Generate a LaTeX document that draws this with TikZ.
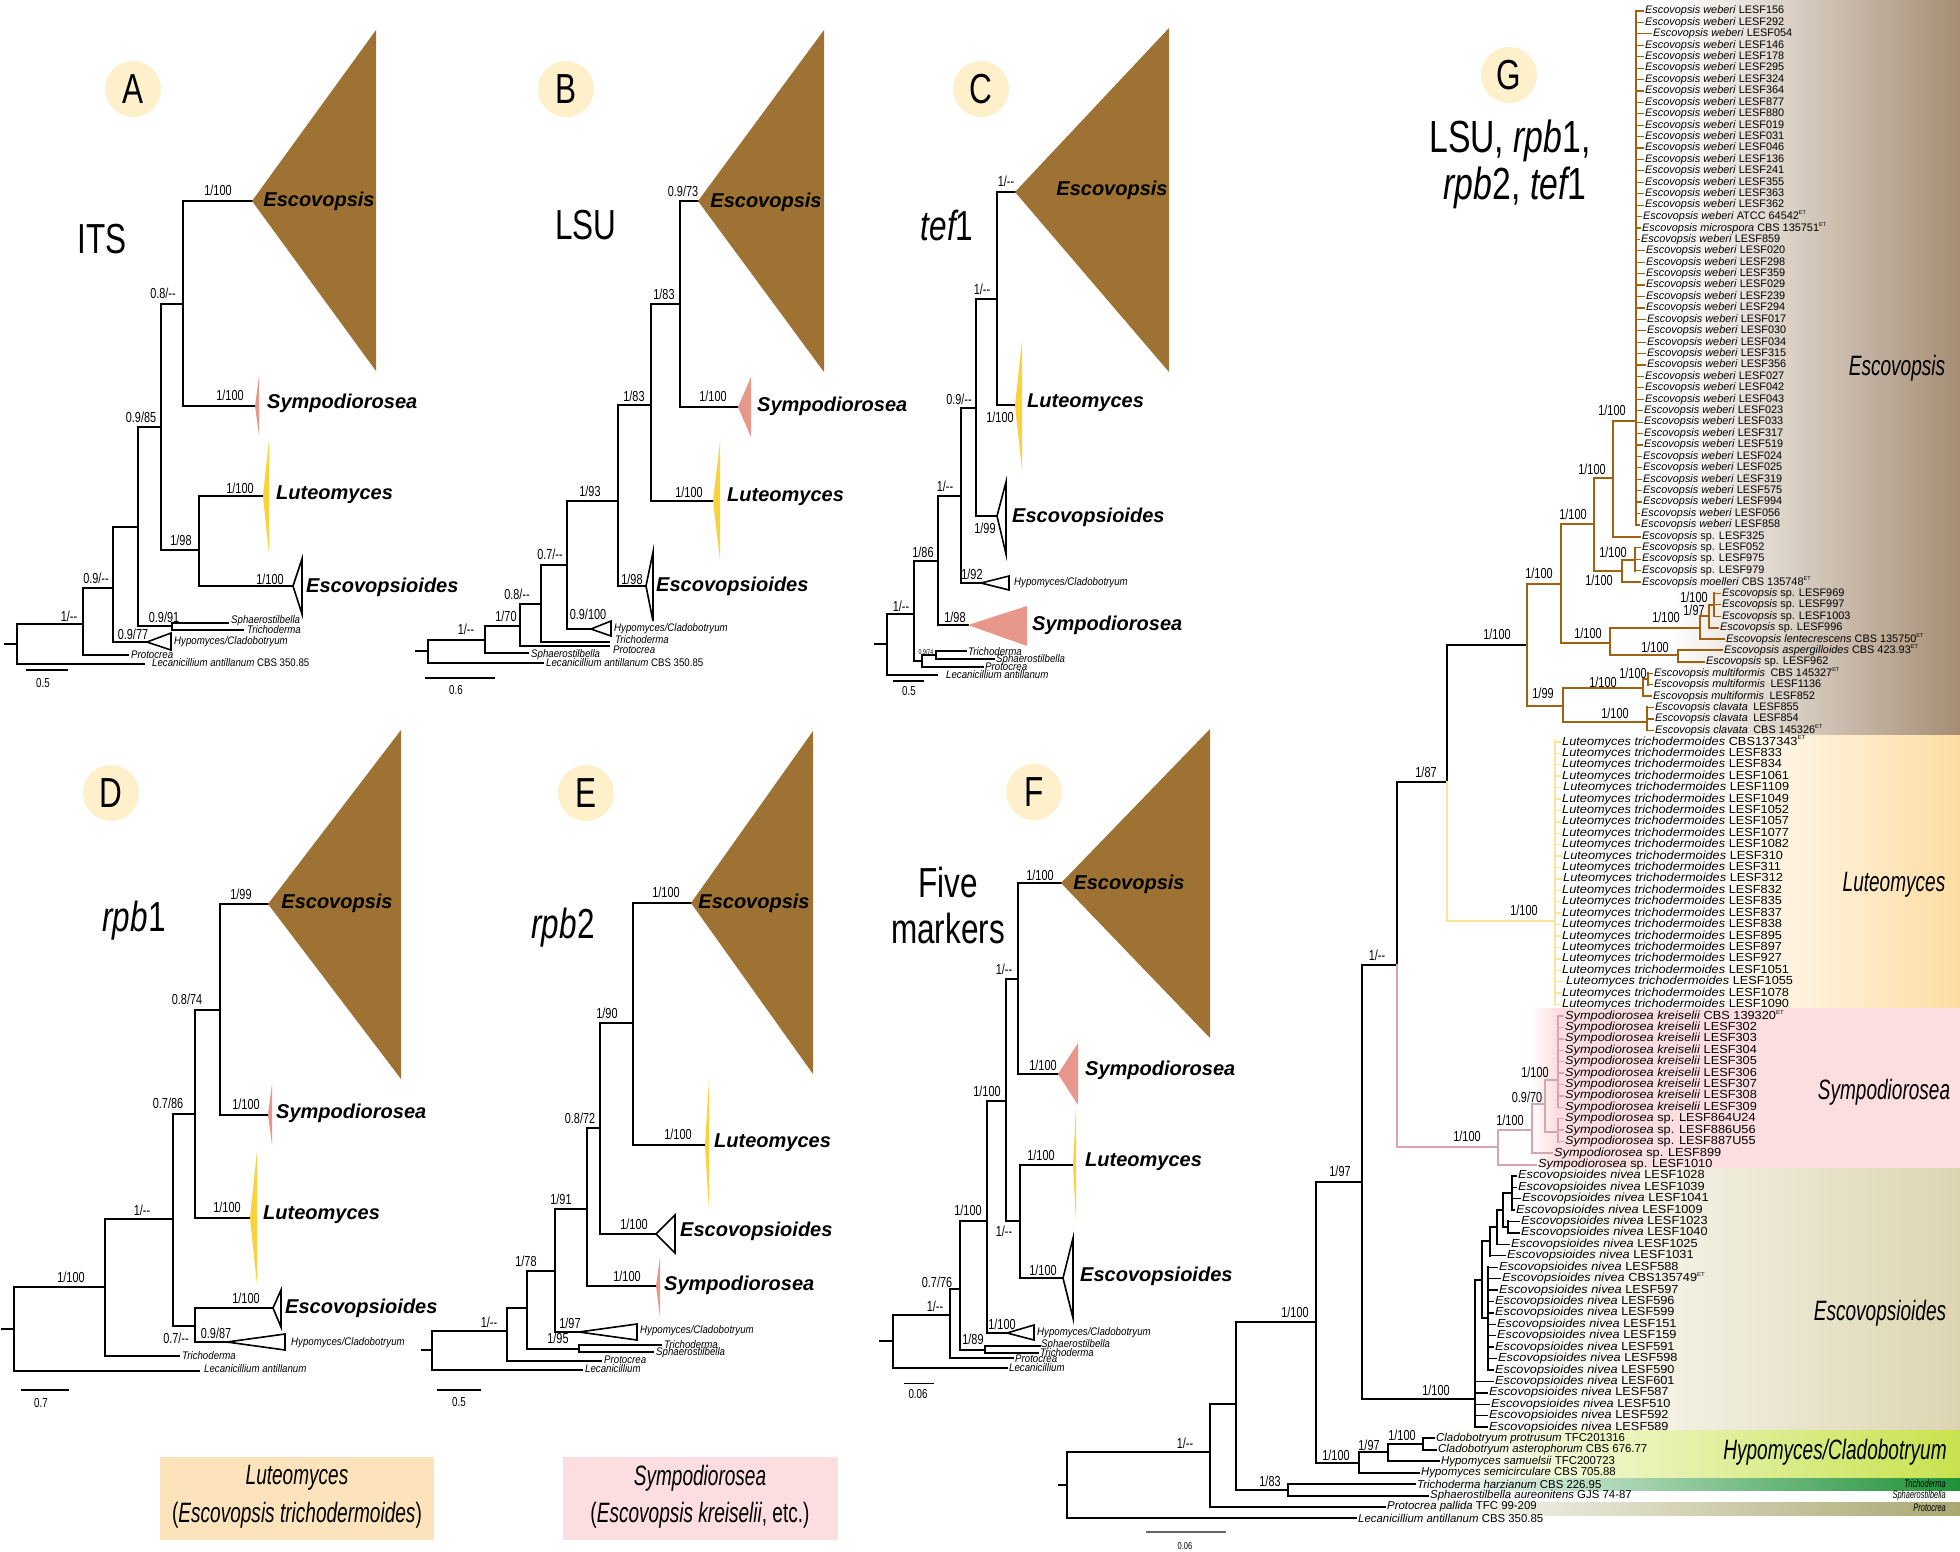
\documentclass[tikz,border=0pt]{standalone}
\usepackage{fontspec}
\setmainfont{Liberation Sans}
\newfontfamily\nrwf[FakeStretch=0.75]{Liberation Sans}
\newfontfamily\gclf[FakeStretch=0.68]{Liberation Sans}
\newfontfamily\tipf[FakeStretch=0.88]{Liberation Sans}
\newfontfamily\widef[FakeStretch=1.09]{Liberation Sans}
\definecolor{escb}{RGB}{157,114,50}
\definecolor{sympc}{RGB}{232,152,138}
\definecolor{lutc}{RGB}{250,211,60}
\definecolor{cream}{RGB}{253,240,203}
\definecolor{gbrown}{RGB}{160,98,16}
\definecolor{gyel}{RGB}{250,228,150}
\definecolor{gpink}{RGB}{214,166,175}
\definecolor{boxl}{RGB}{252,227,188}
\definecolor{boxs}{RGB}{252,221,224}
\definecolor{escband}{RGB}{166,141,116}
\definecolor{lutband}{RGB}{253,221,163}
\definecolor{sympband}{RGB}{252,222,225}
\definecolor{escsband}{RGB}{221,213,177}
\definecolor{hypband}{RGB}{200,226,78}
\definecolor{trichband}{RGB}{30,145,55}
\definecolor{protband}{RGB}{170,168,112}
\newcommand\etsup{\raisebox{0.45em}{\fontsize{5.5}{6}\selectfont ET}}
\newcommand\gtip[6]{\pgfmathsetmacro\gyy{11+(#1-1)*11.42}\draw[#4] (#2,\gyy) -- (#3-1.5,\gyy); \node[#5] (gt#1) at (#3,\gyy) {#6};}
\newcommand\glab[4]{\pgfmathsetmacro\gyy{11+(#1-1)*11.42}\node[#3] (gt#1) at (#2,\gyy) {#4};}
\tikzset{
 brn/.style={line width=2pt},
 tbrn/.style={line width=1.4pt},
 sbar/.style={line width=1.3pt},
 otri/.style={draw=black, fill=white, line width=1.6pt},
 blab/.style={font=\nrwf\fontsize{14.5}{15}\selectfont, inner sep=0pt},
 slab/.style={font=\nrwf\fontsize{13}{14}\selectfont, inner sep=0pt},
 tipl/.style={font=\tipf\itshape\fontsize{11}{12}\selectfont, anchor=west, inner sep=0pt},
 clab/.style={font=\bfseries\itshape\fontsize{20}{22}\selectfont, anchor=west, inner sep=0pt},
 ttl/.style={font=\nrwf\fontsize{42}{44}\selectfont, inner sep=0pt},
 circl/.style={circle, fill=cream, minimum size=56pt, inner sep=0pt, font=\nrwf\fontsize{42}{44}\selectfont},
 gta/.style={font=\fontsize{10.9}{11}\selectfont, inner sep=0pt, anchor=west},
 gtc/.style={font=\widef\fontsize{11.7}{12}\selectfont, inner sep=0pt, anchor=west},
 gtd/.style={font=\fontsize{11.4}{12}\selectfont, inner sep=0pt, anchor=west},
 gcl/.style={font=\gclf\itshape\fontsize{28}{30}\selectfont, inner sep=0pt},
 gsm/.style={font=\gclf\itshape\fontsize{11}{12}\selectfont, inner sep=0pt, anchor=east},
 gbk/.style={line width=2.2pt},
 gbr/.style={draw=gbrown, line width=2.2pt},
 gye/.style={draw=gyel, line width=2pt},
 gpk/.style={draw=gpink, line width=2pt},
 gek/.style={line width=1.8pt},
 tkb/.style={draw=gbrown, line width=1.2pt},
 tky/.style={draw=gyel, line width=1.4pt},
 tkp/.style={draw=gpink, line width=1.4pt},
 tkk/.style={draw=black, line width=1.4pt},
}
\begin{document}
\begin{tikzpicture}[x=1pt,y=-1pt,line cap=rect,line join=miter]
\useasboundingbox (0,0) rectangle (1960,1551);
\fill[white] (0,0) rectangle (1960,1551);

% ================= G background bands
\shade[left color=white,right color=escband] (1670,0) rectangle (1960,735);
\shade[left color=white,right color=lutband] (1700,735) rectangle (1960,1008);
\shade[left color=white,right color=sympband] (1530,1008) rectangle (1556,1168);
\fill[sympband] (1555,1008) rectangle (1960,1168);
\shade[left color=white,right color=escsband] (1520,1168) rectangle (1960,1430);
\shade[left color=white,right color=hypband] (1430,1430) rectangle (1960,1477);
\shade[left color=white,right color=trichband] (1420,1478) rectangle (1960,1490);
\shade[left color=white,right color=protband] (1400,1502) rectangle (1960,1515);

% ================= Panel A
\node[circl] (cA) at (133,89) {A};
\node[ttl] (tA) at (102,239) {ITS};
\draw[brn] (5,644)--(17,644);
\draw[brn] (83,624)--(17,624)--(17,664)--(144,664);
\draw[brn] (113,588)--(83,588)--(83,655)--(128,655);
\draw[brn] (138,527)--(113,527)--(113,642)--(147,642);
\draw[brn] (161,427)--(138,427)--(138,626)--(172,626);
\draw[tbrn] (228,623)--(172,623)--(172,630)--(243,630);
\draw[brn] (183,304)--(161,304)--(161,550)--(199,550);
\draw[brn] (252,201)--(183,201)--(183,406)--(255,406);
\draw[brn] (263,496)--(199,496)--(199,586)--(293,586);
\fill[escb] (252,201) -- (376,30) -- (376,371) -- cycle;
\fill[sympc] (255,406) -- (259,376) -- (259,435) -- cycle;
\fill[lutc] (263,496) -- (269,440) -- (269,554) -- cycle;
\draw[otri] (293,586) -- (302,559) -- (302,614) -- cycle;
\draw[otri] (147,642) -- (171,633) -- (171,650) -- cycle;
\node[clab,anchor=center] (aEsc) at (319,201) {Escovopsis};
\node[clab] (aSym) at (267,403) {Sympodiorosea};
\node[clab] (aLut) at (276,495) {Luteomyces};
\node[clab] (aEss) at (306,587) {Escovopsioides};
\node[tipl] (aSph) at (231,621) {Sphaerostilbella};
\node[tipl] (aTri) at (247,630) {Trichoderma};
\node[tipl] (aHyp) at (174,642) {Hypomyces/Cladobotryum};
\node[tipl] (aPro) at (131,655) {Protocrea};
\node[tipl] (aLec) at (152,663) {Lecanicillium antillanum {\upshape CBS 350.85}};
\node[blab] (a1) at (218,190) {1/100};
\node[blab] (a2) at (163,293) {0.8/-{}-};
\node[blab] (a3) at (230,395) {1/100};
\node[blab] (a4) at (141,417) {0.9/85};
\node[blab] (a5) at (181,540) {1/98};
\node[blab] (a6) at (240,488) {1/100};
\node[blab] (a7) at (270,579) {1/100};
\node[blab] (a8) at (164,617) {0.9/91};
\node[blab] (a9) at (133,634) {0.9/77};
\node[blab] (a10) at (96,578) {0.9/-{}-};
\node[blab] (a11) at (69,616) {1/-{}-};
\draw[sbar] (27,670)--(67,670);
\node[slab] (aS) at (43,683) {0.5};

% ================= Panel B
\node[circl] (cB) at (566,89) {B};
\node[ttl] (tB) at (586,225) {LSU};
\draw[brn] (416,651)--(428,651);
\draw[brn] (485,640)--(428,640)--(428,663)--(543,663);
\draw[brn] (520,626)--(485,626)--(485,653)--(528,653);
\draw[brn] (541,604)--(520,604)--(520,646)--(609,646);
\draw[brn] (567,565)--(541,565)--(541,642)--(609,642);
\draw[brn] (618,501)--(567,501)--(567,629)--(591,629);
\draw[brn] (651,405)--(618,405)--(618,586)--(646,586);
\draw[brn] (680,304)--(651,304)--(651,501)--(713,501);
\draw[brn] (698,201)--(680,201)--(680,407)--(738,407);
\fill[escb] (698,201) -- (824,30) -- (824,372) -- cycle;
\fill[sympc] (738,407) -- (751,377) -- (751,437) -- cycle;
\fill[lutc] (713,501) -- (720,442) -- (720,560) -- cycle;
\draw[otri] (646,586) -- (653,552) -- (653,621) -- cycle;
\draw[otri] (591,629) -- (611,621) -- (611,636) -- cycle;
\node[clab,anchor=center] (bEsc) at (766,202) {Escovopsis};
\node[clab] (bSym) at (757,406) {Sympodiorosea};
\node[clab] (bLut) at (727,497) {Luteomyces};
\node[clab] (bEss) at (656,586) {Escovopsioides};
\node[tipl] (bHyp) at (614,629) {Hypomyces/Cladobotryum};
\node[tipl] (bTri) at (615,640) {Trichoderma};
\node[tipl] (bPro) at (613,650) {Protocrea};
\node[tipl] (bSph) at (531,655) {Sphaerostilbella};
\node[tipl] (bLec) at (546,663) {Lecanicillium antillanum {\upshape CBS 350.85}};
\node[blab] (b1) at (683,191) {0.9/73};
\node[blab] (b2) at (664,294) {1/83};
\node[blab] (b3) at (713,396) {1/100};
\node[blab] (b4) at (634,396) {1/83};
\node[blab] (b5) at (689,492) {1/100};
\node[blab] (b6) at (590,491) {1/93};
\node[blab] (b7) at (632,579) {1/98};
\node[blab] (b8) at (588,614) {0.9/100};
\node[blab] (b9) at (550,554) {0.7/-{}-};
\node[blab] (b10) at (517,594) {0.8/-{}-};
\node[blab] (b11) at (506,616) {1/70};
\node[blab] (b12) at (466,629) {1/-{}-};
\draw[sbar] (426,678)--(494,678);
\node[slab] (bS) at (456,690) {0.6};

% ================= Panel C
\node[circl] (cC) at (981,89) {C};
\node[ttl] (tC) at (947,225) {{\itshape tef}1};
\draw[brn] (875,644)--(887,644);
\draw[brn] (914,614)--(887,614)--(887,675)--(937,675);
\draw[brn] (938,561)--(914,561)--(914,661)--(922,661);
\draw[tbrn] (936,655)--(922,655)--(922,667)--(983,667);
\draw[tbrn] (966,651)--(936,651)--(936,659)--(994,659);
\draw[brn] (961,496)--(938,496)--(938,625)--(968,625);
\draw[brn] (976,408)--(961,408)--(961,583)--(981,583);
\draw[brn] (997,299)--(976,299)--(976,516)--(997,516);
\draw[brn] (1015,192)--(997,192)--(997,405)--(1015,405);
\fill[escb] (1015,192) -- (1169,28) -- (1169,372) -- cycle;
\fill[lutc] (1015,405) -- (1022,341) -- (1022,470) -- cycle;
\draw[otri] (997,516) -- (1006,482) -- (1006,554) -- cycle;
\draw[otri] (981,583) -- (1009,576) -- (1009,590) -- cycle;
\fill[sympc] (968,625) -- (1027,606) -- (1027,646) -- cycle;
\node[clab,anchor=center] (cEsc) at (1112,190) {Escovopsis};
\node[clab] (cLut) at (1027,403) {Luteomyces};
\node[clab] (cEss) at (1012,517) {Escovopsioides};
\node[tipl] (cHyp) at (1014,583) {Hypomyces/Cladobotryum};
\node[clab] (cSym) at (1032,625) {Sympodiorosea};
\node[tipl] (cTri) at (968,652) {Trichoderma};
\node[tipl] (cSph) at (996,660) {Sphaerostilbella};
\node[tipl] (cPro) at (985,667) {Protocrea};
\node[tipl] (cLec) at (946,675) {Lecanicillium antillanum};
\node[blab] (c1) at (1006,181) {1/-{}-};
\node[blab] (c2) at (982,289) {1/-{}-};
\node[blab] (c3) at (1000,417) {1/100};
\node[blab] (c4) at (985,528) {1/99};
\node[blab] (c5) at (959,399) {0.9/-{}-};
\node[blab] (c6) at (972,574) {1/92};
\node[blab] (c7) at (945,486) {1/-{}-};
\node[blab] (c8) at (955,617) {1/98};
\node[blab] (c9) at (923,552) {1/86};
\node[blab] (c10) at (901,606) {1/-{}-};
\node[font=\nrwf\fontsize{7}{8}\selectfont, inner sep=0pt] (c11) at (926,652) {0.9/74};
\draw[sbar] (894,681)--(923,681);
\node[slab] (cS) at (909,691) {0.5};

% ================= Panel D
\node[circl] (cD) at (111,793) {D};
\node[ttl] (tD) at (134,921) {{\itshape rpb}1};
\draw[brn] (2,1329)--(14,1329);
\draw[brn] (105,1287)--(14,1287)--(14,1371)--(199,1371);
\draw[brn] (173,1219)--(105,1219)--(105,1356)--(179,1356);
\draw[brn] (195,1114)--(173,1114)--(173,1326)--(195,1326);
\draw[brn] (273,1308)--(195,1308)--(195,1342)--(227,1342);
\draw[brn] (220,1010)--(195,1010)--(195,1218)--(250,1218);
\draw[brn] (268,904)--(220,904)--(220,1115)--(268,1115);
\fill[escb] (268,904) -- (401,730) -- (401,1079) -- cycle;
\fill[sympc] (268,1115) -- (272,1084) -- (272,1145) -- cycle;
\fill[lutc] (250,1218) -- (257,1151) -- (257,1285) -- cycle;
\draw[otri] (273,1308) -- (281,1290) -- (281,1327) -- cycle;
\draw[otri] (227,1342) -- (285,1334) -- (285,1350) -- cycle;
\node[clab,anchor=center] (dEsc) at (337,903) {Escovopsis};
\node[clab] (dSym) at (276,1113) {Sympodiorosea};
\node[clab] (dLut) at (263,1215) {Luteomyces};
\node[clab] (dEss) at (285,1308) {Escovopsioides};
\node[tipl] (dHyp) at (291,1343) {Hypomyces/Cladobotryum};
\node[tipl] (dTri) at (182,1356) {Trichoderma};
\node[tipl] (dLec) at (204,1369) {Lecanicillium antillanum};
\node[blab] (d1) at (241,894) {1/99};
\node[blab] (d2) at (187,999) {0.8/74};
\node[blab] (d3) at (246,1104) {1/100};
\node[blab] (d4) at (227,1207) {1/100};
\node[blab] (d5) at (168,1103) {0.7/86};
\node[blab] (d6) at (176,1338) {0.7/-{}-};
\node[blab] (d7) at (246,1298) {1/100};
\node[blab] (d8) at (216,1333) {0.9/87};
\node[blab] (d9) at (142,1210) {1/-{}-};
\node[blab] (d10) at (71,1277) {1/100};
\draw[sbar] (22,1390)--(68,1390);
\node[slab] (dS) at (41,1403) {0.7};

% ================= Panel E
\node[circl] (cE) at (586,793) {E};
\node[ttl] (tE) at (563,928) {{\itshape rpb}2};
\draw[brn] (422,1350)--(432,1350);
\draw[brn] (507,1331)--(432,1331)--(432,1370)--(582,1370);
\draw[brn] (527,1308)--(507,1308)--(507,1361)--(601,1361);
\draw[brn] (555,1271)--(527,1271)--(527,1349)--(579,1349);
\draw[tbrn] (661,1345)--(579,1345)--(579,1352)--(653,1352);
\draw[brn] (587,1209)--(555,1209)--(555,1332)--(579,1332);
\draw[brn] (600,1128)--(587,1128)--(587,1286)--(656,1286);
\draw[brn] (633,1023)--(600,1023)--(600,1234)--(656,1234);
\draw[brn] (691,903)--(633,903)--(633,1145)--(705,1145);
\fill[escb] (691,903) -- (813,731) -- (813,1074) -- cycle;
\fill[lutc] (705,1145) -- (709,1080) -- (709,1210) -- cycle;
\draw[otri] (656,1234) -- (675,1215) -- (675,1253) -- cycle;
\fill[sympc] (656,1286) -- (660,1257) -- (660,1317) -- cycle;
\draw[otri] (579,1332) -- (637,1324) -- (637,1340) -- cycle;
\node[clab,anchor=center] (eEsc) at (754,903) {Escovopsis};
\node[clab] (eLut) at (714,1143) {Luteomyces};
\node[clab] (eEss) at (680,1231) {Escovopsioides};
\node[clab] (eSym) at (664,1285) {Sympodiorosea};
\node[tipl] (eHyp) at (640,1331) {Hypomyces/Cladobotryum};
\node[tipl] (eTri) at (664,1345) {Trichoderma};
\node[tipl] (eSph) at (656,1353) {Sphaerostilbella};
\node[tipl] (ePro) at (604,1360) {Protocrea};
\node[tipl] (eLec) at (585,1369) {Lecanicillium};
\node[blab] (e1) at (666,892) {1/100};
\node[blab] (e2) at (607,1013) {1/90};
\node[blab] (e3) at (678,1134) {1/100};
\node[blab] (e4) at (580,1118) {0.8/72};
\node[blab] (e5) at (634,1224) {1/100};
\node[blab] (e6) at (627,1276) {1/100};
\node[blab] (e7) at (561,1199) {1/91};
\node[blab] (e8) at (570,1323) {1/97};
\node[blab] (e9) at (526,1261) {1/78};
\node[blab] (e10) at (558,1338) {1/95};
\node[blab] (e11) at (489,1322) {1/-{}-};
\draw[sbar] (438,1390)--(480,1390);
\node[slab] (eS) at (459,1402) {0.5};

% ================= Panel F
\node[circl] (cF) at (1034,792) {F};
\node[ttl] (tF1) at (948,882) {Five};
\node[ttl] (tF2) at (948,928) {markers};
\draw[brn] (880,1341)--(893,1341);
\draw[brn] (950,1315)--(893,1315)--(893,1368)--(1007,1368);
\draw[brn] (960,1289)--(950,1289)--(950,1358)--(1013,1358);
\draw[brn] (987,1221)--(960,1221)--(960,1350)--(985,1350);
\draw[tbrn] (1040,1346)--(985,1346)--(985,1353)--(1038,1353);
\draw[brn] (1006,1101)--(987,1101)--(987,1333)--(1007,1333);
\draw[brn] (1018,979)--(1006,979)--(1006,1221)--(1020,1221);
\draw[brn] (1061,883)--(1018,883)--(1018,1074)--(1058,1074);
\draw[brn] (1073,1165)--(1020,1165)--(1020,1278)--(1063,1278);
\fill[escb] (1061,883) -- (1210,729) -- (1210,1038) -- cycle;
\fill[sympc] (1058,1074) -- (1078,1043) -- (1078,1105) -- cycle;
\fill[lutc] (1073,1165) -- (1076,1108) -- (1076,1220) -- cycle;
\draw[otri] (1063,1278) -- (1073,1238) -- (1073,1318) -- cycle;
\draw[otri] (1007,1333) -- (1034,1325) -- (1034,1340) -- cycle;
\node[clab,anchor=center] (fEsc) at (1129,884) {Escovopsis};
\node[clab] (fSym) at (1085,1070) {Sympodiorosea};
\node[clab] (fLut) at (1085,1162) {Luteomyces};
\node[clab] (fEss) at (1080,1276) {Escovopsioides};
\node[tipl] (fHyp) at (1037,1333) {Hypomyces/Cladobotryum};
\node[tipl] (fSph) at (1041,1345) {Sphaerostilbella};
\node[tipl] (fTri) at (1040,1353) {Trichoderma};
\node[tipl] (fPro) at (1015,1359) {Protocrea};
\node[tipl] (fLec) at (1009,1368) {Lecanicillium};
\node[blab] (f1) at (1040,875) {1/100};
\node[blab] (f2) at (1043,1065) {1/100};
\node[blab] (f3) at (1004,969) {1/-{}-};
\node[blab] (f4) at (1004,1231) {1/-{}-};
\node[blab] (f5) at (1041,1155) {1/100};
\node[blab] (f6) at (1043,1270) {1/100};
\node[blab] (f7) at (987,1091) {1/100};
\node[blab] (f8) at (1002,1324) {1/100};
\node[blab] (f9) at (968,1210) {1/100};
\node[blab] (f10) at (973,1339) {1/89};
\node[blab] (f11) at (937,1282) {0.7/76};
\node[blab] (f12) at (935,1306) {1/-{}-};
\draw[line width=1pt] (904,1383)--(933,1383);
\node[slab] (fS) at (918,1394) {0.06};

% ================= Bottom boxes
\fill[boxl] (160,1457) rectangle (434,1540);
\node[gcl] (bx1a) at (297,1478) {Luteomyces};
\node[gcl] (bx1b) at (297,1515) {{\upshape(}Escovopsis trichodermoides{\upshape)}};
\fill[boxs] (563,1457) rectangle (838,1540);
\node[gcl] (bx2a) at (700,1478) {Sympodiorosea};
\node[gcl] (bx2b) at (700,1515) {{\upshape(}Escovopsis kreiselii{\upshape, etc.)}};

% ================= Panel G
\node[circl] (cG) at (1509,75) {G};
\node[font=\nrwf\fontsize{45}{46}\selectfont, inner sep=0pt] (tG1) at (1510,141) {LSU, {\itshape rpb}1,};
\node[font=\nrwf\fontsize{45}{46}\selectfont, inner sep=0pt] (tG2) at (1515,188) {{\itshape rpb}2, {\itshape tef}1};
% backbone
\draw[gbk] (1059,1485)--(1067,1485);
\draw[gbk] (1210,1452)--(1067,1452)--(1067,1518)--(1356,1518);
\draw[gbk] (1236,1404)--(1210,1404)--(1210,1507)--(1385,1507);
\draw[gbk] (1316,1322)--(1236,1322)--(1236,1490)--(1288,1490);
\draw[tkk] (1415,1484)--(1288,1484)--(1288,1496)--(1428,1496);
\draw[gbk] (1362,1182)--(1316,1182)--(1316,1463)--(1359,1463);
\draw[gbk] (1388,1452)--(1359,1452)--(1359,1473)--(1419,1473);
\draw[gbk] (1423,1444)--(1388,1444)--(1388,1461)--(1439,1461);
\draw[tkk] (1434,1438)--(1423,1438)--(1423,1450)--(1436,1450);
\draw[gbk] (1397,965)--(1362,965)--(1362,1399)--(1475,1399);
\draw[gbk] (1447,782)--(1397,782)--(1397,965);
\draw[gpk] (1397,965)--(1397,1147)--(1498,1147);
\draw[gbk] (1527,645)--(1447,645)--(1447,782);
\draw[gye] (1447,782)--(1447,921)--(1555,921);
% Escovopsis clade
\draw[gbr] (1561,584)--(1527,584)--(1527,706)--(1563,706);
\draw[gbr] (1594,524)--(1561,524)--(1561,643)--(1610,643);
\draw[gbr] (1613,478)--(1594,478)--(1594,571)--(1622,571);
\draw[gbr] (1636,421)--(1613,421)--(1613,537)--(1640,537);
\draw[gbr] (1636,11)--(1636,525);
\draw[gbr] (1635,560)--(1622,560)--(1622,582)--(1640,582);
\draw[gbr] (1635,548)--(1635,571);
\draw[gbr] (1700,628)--(1610,628)--(1610,655)--(1678,655);
\draw[gbr] (1709,616)--(1700,616)--(1700,639)--(1724,639);
\draw[gbr] (1714,605)--(1709,605)--(1709,628)--(1718,628);
\draw[gbr] (1714,593)--(1714,616);
\draw[gbr] (1722,650)--(1678,650)--(1678,662)--(1704,662);
\draw[gbr] (1643,688)--(1563,688)--(1563,722)--(1647,722);
\draw[gbr] (1648,679)--(1643,679)--(1643,696)--(1651,696);
\draw[gbr] (1648,673)--(1648,685);
\draw[gbr] (1647,707)--(1647,730);
% Luteomyces
\draw[gye] (1555,741)--(1555,1004);
% Sympodiorosea
\draw[gpk] (1532,1130)--(1498,1130)--(1498,1164.5)--(1536,1164.5);
\draw[gpk] (1545,1104)--(1532,1104)--(1532,1153)--(1552,1153);
\draw[gpk] (1558,1080)--(1545,1080)--(1545,1132)--(1558,1132);
\draw[gpk] (1558,1016)--(1558,1107);
\draw[gpk] (1558,1119)--(1558,1142);
% Escovopsioides
\draw[gek] (1482,1280)--(1475,1280)--(1475,1427);
\draw[gek] (1490,1241)--(1482,1241)--(1482,1318)--(1488,1318);
\draw[gek] (1488,1267)--(1488,1370);
\draw[gek] (1497,1227)--(1490,1227)--(1490,1256);
\draw[gek] (1503,1210)--(1497,1210)--(1497,1244);
\draw[gek] (1512,1193)--(1503,1193)--(1503,1227)--(1508,1227);
\draw[gek] (1512,1176)--(1512,1210);
\draw[gek] (1508,1221)--(1508,1233);

% tips Escovopsis
\foreach \rw/\cd/\lx in {1/156/1645,2/292/1645,3/054/1653,4/146/1645,5/178/1645,6/295/1645,7/324/1645,8/364/1645,9/877/1645,10/880/1645,11/019/1645,12/031/1645,13/046/1645,14/136/1645,15/241/1645,16/355/1645,17/363/1645,18/362/1645,21/859/1641,22/020/1646,23/298/1646,24/359/1646,25/029/1646,26/239/1646,27/294/1646,28/017/1647,29/030/1647,30/034/1647,31/315/1647,32/356/1647,33/027/1645,34/042/1645,35/043/1645,36/023/1644,37/033/1644,38/317/1644,39/519/1644,40/024/1643,41/025/1643,42/319/1643,43/575/1643,44/994/1643,45/056/1641,46/858/1641}
 {\gtip{\rw}{1636}{\lx}{tkb}{gta}{\textit{Escovopsis weberi} LESF\cd}}
\gtip{19}{1636}{1643}{tkb}{gta}{\textit{Escovopsis weberi} ATCC 64542\etsup}
\gtip{20}{1636}{1642}{tkb}{gta}{\textit{Escovopsis microspora} CBS 135751\etsup}
\glab{47}{1642}{gta}{\textit{Escovopsis} sp. LESF325}
\foreach \rw/\cd in {48/052,49/975,50/979}{\gtip{\rw}{1635}{1642}{tkb}{gta}{\textit{Escovopsis} sp. LESF\cd}}
\glab{51}{1642}{gta}{\textit{Escovopsis moelleri} CBS 135748\etsup}
\foreach \rw/\cd in {52/969,53/997,54/1003}{\gtip{\rw}{1714}{1722}{tkb}{gta}{\textit{Escovopsis} sp. LESF\cd}}
\glab{55}{1720}{gta}{\textit{Escovopsis} sp. LESF996}
\glab{56}{1726}{gta}{\textit{Escovopsis lentecrescens} CBS 135750\etsup}
\glab{57}{1724}{gta}{\textit{Escovopsis aspergilloides} CBS 423.93\etsup}
\glab{58}{1706}{gta}{\textit{Escovopsis} sp. LESF962}
\gtip{59}{1648}{1654}{tkb}{gta}{\textit{Escovopsis multiformis}\enspace CBS 145327\etsup}
\gtip{60}{1648}{1654}{tkb}{gta}{\textit{Escovopsis multiformis}\enspace LESF1136}
\glab{61}{1653}{gta}{\textit{Escovopsis multiformis}\enspace LESF852}
\foreach \rw/\cd in {62/LESF855,63/LESF854}{\gtip{\rw}{1647}{1655}{tkb}{gta}{\textit{Escovopsis clavata}\enspace \cd}}
\gtip{64}{1647}{1655}{tkb}{gta}{\textit{Escovopsis clavata}\enspace CBS 145326\etsup}
% tips Luteomyces
\gtip{65}{1555}{1562}{tky}{gtc}{\textit{Luteomyces trichodermoides} CBS137343\etsup}
\foreach \rw/\cd/\lx in {66/833/1562,67/834/1562,68/1061/1562,69/1109/1563,70/1049/1562,71/1052/1562,72/1057/1562,73/1077/1562,74/1082/1562,75/310/1563,76/311/1562,77/312/1563,78/832/1562,79/835/1562,80/837/1562,81/838/1562,82/895/1562,83/897/1562,84/927/1562,85/1051/1562,86/1055/1566,87/1078/1562,88/1090/1562}
 {\gtip{\rw}{1555}{\lx}{tky}{gtc}{\textit{Luteomyces trichodermoides} LESF\cd}}
% tips Sympodiorosea
\gtip{89}{1558}{1565}{tkp}{gtc}{\textit{Sympodiorosea kreiselii} CBS 139320\etsup}
\foreach \rw/\cd in {90/302,91/303,92/304,93/305,94/306,95/307,96/308,97/309}{\gtip{\rw}{1558}{1565}{tkp}{gtc}{\textit{Sympodiorosea kreiselii} LESF\cd}}
\foreach \rw/\cd in {98/864U24,99/886U56,100/887U55}{\gtip{\rw}{1558}{1565}{tkp}{gtc}{\textit{Sympodiorosea} sp. LESF\cd}}
\glab{101}{1554}{gtc}{\textit{Sympodiorosea} sp. LESF899}
\glab{102}{1538}{gtc}{\textit{Sympodiorosea} sp. LESF1010}
% tips Escovopsioides
\foreach \rw/\cd/\vx/\lx in {103/1028/1512/1518,104/1039/1512/1518,105/1041/1512/1522,106/1009/1512/1516,107/1023/1508/1521,108/1040/1508/1521,109/1025/1497/1511,110/1031/1490/1507,111/588/1488/1499,113/597/1488/1499,114/596/1488/1495,115/599/1488/1495,116/151/1488/1497,117/159/1488/1497,118/591/1488/1495,119/598/1488/1498,120/590/1488/1495,121/601/1475/1495,122/587/1475/1489,123/510/1475/1491,124/592/1475/1489,125/589/1475/1489}
 {\gtip{\rw}{\vx}{\lx}{tkk}{gtc}{\textit{Escovopsioides nivea} LESF\cd}}
\gtip{112}{1488}{1502}{tkk}{gtc}{\textit{Escovopsioides nivea} CBS135749\etsup}
% outgroups
\glab{126}{1436}{gtd}{\textit{Cladobotryum protrusum} TFC201316}
\glab{127}{1438}{gtd}{\textit{Cladobotryum asterophorum} CBS 676.77}
\glab{128}{1441}{gtd}{\textit{Hypomyces samuelsii} TFC200723}
\glab{129}{1421}{gtd}{\textit{Hypomyces semicirculare} CBS 705.88}
\glab{130}{1417}{gtd}{\textit{Trichoderma harzianum} CBS 226.95}
\glab{131}{1430}{gtd}{\textit{Sphaerostilbella aureonitens} GJS 74-87}
\glab{132}{1387}{gtd}{\textit{Protocrea pallida} TFC 99-209}
\glab{133}{1358}{gtd}{\textit{Lecanicillium antillanum} CBS 350.85}
% G branch labels
\node[blab] (g1) at (1497,634) {1/100};
\node[blab] (g2) at (1539,573) {1/100};
\node[blab] (g3) at (1573,514) {1/100};
\node[blab] (g4) at (1592,469) {1/100};
\node[blab] (g5) at (1612,410) {1/100};
\node[blab] (g6) at (1613,552) {1/100};
\node[blab] (g7) at (1599,580) {1/100};
\node[blab] (g8) at (1588,633) {1/100};
\node[blab] (g9) at (1666,617) {1/100};
\node[blab] (g10) at (1694,597) {1/100};
\node[blab] (g11) at (1694,610) {1/97};
\node[blab] (g12) at (1655,647) {1/100};
\node[blab] (g13) at (1543,693) {1/99};
\node[blab] (g14) at (1603,682) {1/100};
\node[blab] (g15) at (1633,673) {1/100};
\node[blab] (g16) at (1615,713) {1/100};
\node[blab] (g17) at (1426,772) {1/87};
\node[blab] (g18) at (1524,910) {1/100};
\node[blab] (g19) at (1377,955) {1/-{}-};
\node[blab] (g20) at (1467,1136) {1/100};
\node[blab] (g21) at (1510,1120) {1/100};
\node[blab] (g22) at (1527,1097) {0.9/70};
\node[blab] (g23) at (1535,1072) {1/100};
\node[blab] (g24) at (1340,1171) {1/97};
\node[blab] (g25) at (1436,1390) {1/100};
\node[blab] (g26) at (1295,1312) {1/100};
\node[blab] (g27) at (1270,1481) {1/83};
\node[blab] (g28) at (1336,1455) {1/100};
\node[blab] (g29) at (1369,1445) {1/97};
\node[blab] (g30) at (1402,1435) {1/100};
\node[blab] (g31) at (1185,1443) {1/-{}-};
\draw[line width=1.3pt, black!60] (1147,1532)--(1225,1532);
\node[font=\nrwf\fontsize{10}{11}\selectfont, inner sep=0pt] (gS) at (1185,1546) {0.06};
% G clade labels
\node[gcl] (gesc) at (1897,368) {Escovopsis};
\node[gcl] (glut) at (1894,885) {Luteomyces};
\node[gcl] (gsym) at (1884,1092) {Sympodiorosea};
\node[gcl] (gess) at (1880,1313) {Escovopsioides};
\node[gcl] (ghyp) at (1835,1452) {Hypomyces/Cladobotryum};
\node[gsm] (gtri) at (1946,1484) {Trichoderma};
\node[gsm] (gsph) at (1946,1496) {Sphaerostilbella};
\node[gsm] (gpro) at (1946,1508) {Protocrea};
\end{tikzpicture}
\end{document}
